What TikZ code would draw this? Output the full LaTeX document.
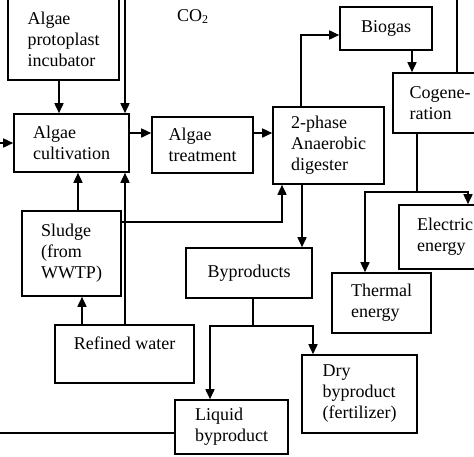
\documentclass[tikz,border=0pt]{standalone}
\usepackage{fontspec}
\setmainfont{Liberation Serif}
\usetikzlibrary{arrows.meta}
\usetikzlibrary{calc}

\tikzset{
  bx/.style 2 args={draw, line width=0.8pt, minimum width=#1*0.5pt, minimum height=#2*0.5pt,
    inner sep=0pt, align=left, font=\fontsize{9}{10.5}\selectfont},
  arr/.style={line width=0.8pt, -{Triangle[length=5pt,width=4.5pt]}},
  ln/.style={line width=0.8pt}
}

\begin{document}
\begin{tikzpicture}[x=0.5pt, y=-0.5pt]
      \useasboundingbox (0,0) rectangle (474,456);

      % boxes
      \node[bx={111}{82}] (incub) at (63.5, 39) {Algae\\protoplast\\incubator};
      \node[bx={115}{58}] (cult) at (71.5, 143) {Algae\\cultivation};
      \node[bx={101}{56}] (treat) at (202.5, 145) {Algae\\treatment};
      \node[bx={111}{77}] (dig) at (328.5, 145.5) {2-phase\\Anaerobic\\digester};
      \node[bx={92}{43}] (biogas) at (386, 28.5) {Biogas};
      \node[bx={94}{60}] (cogen) at (440, 103) {Cogene-\\ration};
      \node[bx={92}{64}] (elec) at (445, 237) {Electric\\energy};
      \node[bx={99}{60}] (therm) at (381.5, 303) {Thermal\\energy};
      \node[bx={99}{85}] (sludge) at (71.5, 253.5) {Sludge\\(from\\WWTP)};
      \node[bx={139}{58}] (refined) at (124.5, 354) {Refined water\\~};
      \node[bx={126}{50}] (byprod) at (249, 273) {Byproducts};
      \node[bx={115}{78}] (dry) at (359.5, 394) {Dry\\byproduct\\(fertilizer)};
      \node[bx={113}{54}] (liquid) at (231.5, 427) {Liquid\\byproduct};

      \node[font=\fontsize{9}{10.5}\selectfont] (co2) at (193, 17) {CO\textsubscript{2}};

      % main line
      \draw[arr] (incub.south -| 59,0) -- (cult.north -| 59,0);
      \draw[arr] (cult.east |- 0,133) -- (treat.west |- 0,133);
      \draw[arr] (treat.east |- 0,133) -- (dig.west |- 0,133);
      \draw[arr] (dig.north -| 301,0) |- (biogas.west |- 0,35);
      \draw[arr] (biogas.south -| 412,0) -- (cogen.north -| 412,0);

      % CO2 back to cultivation (runs along the top edge)
      \draw[arr] (cogen.north -| 457,0) -- (457,-0.5) -- (125,-0.5) -- (cult.north -| 125,0);

      % energy
      \coordinate (csplit) at (417, 192);
      \draw[ln] (cogen.south -| csplit) -- (csplit);
      \draw[arr] (csplit) -| (therm.north -| 365,0);
      \draw[arr] (csplit) -| (elec.north -| 468,0);

      % sludge and water
      \draw[arr] (sludge.north -| 78,0) -- (cult.south -| 78,0);
      \draw[arr] (refined.north -| 125,0) -- (cult.south -| 125,0);
      \draw[arr] (refined.north -| 82,0) -- (sludge.south -| 82,0);
      \draw[arr] (sludge.east |- 0,222) -| (dig.south -| 282,0);

      % byproducts
      \draw[arr] (dig.south -| 302,0) -- (byprod.north -| 302,0);
      \coordinate (bsplit) at (253, 326);
      \draw[ln] (byprod.south -| bsplit) -- (bsplit);
      \draw[arr] (bsplit) -| (liquid.north -| 210,0);
      \draw[arr] (bsplit) -| (dry.north -| 313,0);

      % liquid back to cultivation (runs along the left edge)
      \draw[arr] (liquid.west |- 0,433) -- (-0.5,433) -- (-0.5,143) -- (cult.west |- 0,143);
    \end{tikzpicture}
\end{document}
